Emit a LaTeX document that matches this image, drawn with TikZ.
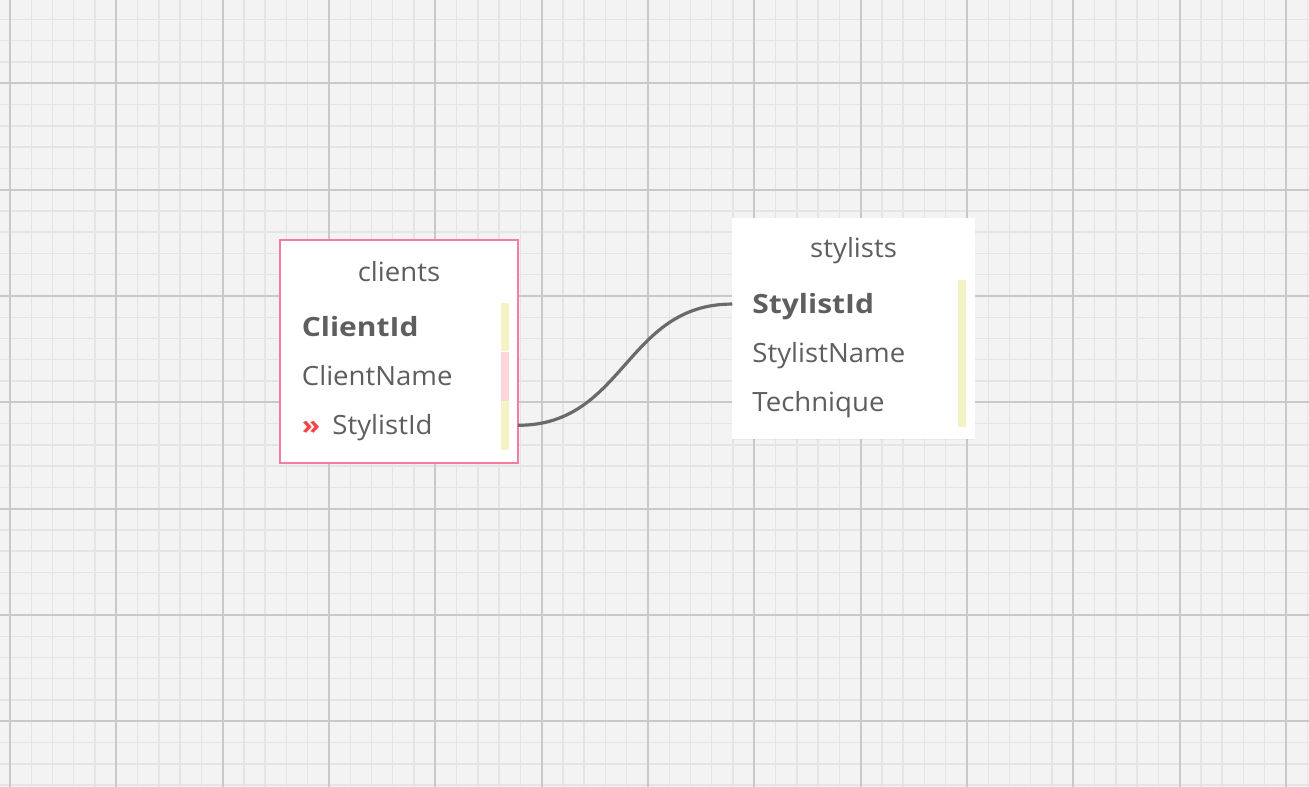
\documentclass[tikz,border=0pt]{standalone}
\usepackage{fontspec}
\setmainfont{Open Sans}[FakeStretch=1.04, BoldFeatures={FakeStretch=1.13}]
\usetikzlibrary{positioning, calc, shadows}

\definecolor{gridbg}{HTML}{F3F3F3}
\definecolor{gridminor}{HTML}{E4E4E4}
\definecolor{gridmajor}{HTML}{C9C9C9}
\definecolor{textgray}{HTML}{5E5E5E}
\definecolor{fkpink}{HTML}{F57CA1}
\definecolor{fkred}{HTML}{F24545}
\definecolor{baryellow}{HTML}{F3F3C4}
\definecolor{barpink}{HTML}{FFD6D9}
\definecolor{linkgray}{HTML}{6A6A6A}

\begin{document}
\begin{tikzpicture}[
    x=1pt, y=-1pt,
    minorline/.style={draw=gridminor, line width=1.4pt},
    majorline/.style={draw=gridmajor, line width=2pt},
    tablebox/.style={fill=white, inner sep=0pt, outer sep=0pt},
    tabtitle/.style={anchor=base, inner sep=0pt, text=textgray,
                     font=\fontsize{26.5}{30}\selectfont},
    fieldrow/.style={anchor=west, inner sep=0pt, text height=19pt,
                     text depth=0pt, text=textgray,
                     font=\fontsize{26.5}{30}\selectfont},
    keyrow/.style={fieldrow, font=\fontsize{26.5}{30}\selectfont\bfseries},
    relline/.style={draw=linkgray, line width=3.2pt}
  ]
  \useasboundingbox (0,0) rectangle (1309,787);
  \fill[gridbg] (0,0) rectangle (1309,787);

  % Grid
  \foreach \i in {0,...,61}
    \draw[minorline] ({10+\i*21.266},0) -- ++(0,787);
  \foreach \i in {-3,...,33}
    \draw[minorline] (0,{83.3+\i*21.266}) -- ++(1309,0);
  \foreach \i in {0,...,12}
    \draw[majorline] ({10+\i*106.33},0) -- ++(0,787);
  \foreach \i in {0,...,6}
    \draw[majorline] (0,{83.3+\i*106.33}) -- ++(1309,0);

  % clients table
  \node[tablebox, draw=fkpink, line width=2pt, minimum width=238pt,
        minimum height=223pt] (clients) at (399,351) {};
  \node[tabtitle] (clientsT) at ([yshift=-42pt]clients.north) {clients};
  \node[keyrow] (cid) at ([xshift=21.7pt, yshift=-87.5pt]clients.north west) {ClientId};
  \node[fieldrow, below=29.75pt of cid.south west, anchor=north west] (cname) {ClientName};
  \node[fieldrow, below=29.75pt of cname.south west, anchor=north west] (csid)
    {\textcolor{fkred}{\bfseries »}\hspace{5pt} StylistId};
  \foreach \r/\c in {cid/baryellow, cname/barpink, csid/baryellow}
    \fill[\c] ($(clients.east |- \r.center)+(-17,-24.4)$) rectangle
              ($(clients.east |- \r.center)+(-9,24.4)$);

  % stylists table
  \node[tablebox, minimum width=242.7pt, minimum height=221.5pt,
        drop shadow={shadow xshift=0.3pt, shadow yshift=-0.8pt, opacity=0.08}]
        (stylists) at (853.6,328.3) {};
  \node[tabtitle] (stylistsT) at ([yshift=-40pt]stylists.north) {stylists};
  \node[keyrow] (ssid) at ([xshift=20pt, yshift=-86.5pt]stylists.north west) {StylistId};
  \node[fieldrow, below=29.75pt of ssid.south west, anchor=north west] (sname) {StylistName};
  \node[fieldrow, below=29.75pt of sname.south west, anchor=north west] (stech) {Technique};
  \fill[baryellow] ($(stylists.east |- ssid.center)+(-17,-24.4)$) rectangle
                   ($(stylists.east |- stech.center)+(-9,24.4)$);

  % clients.StylistId -> stylists.StylistId
  \draw[relline] (clients.east |- csid.center) .. controls +(107,0) and +(-107,0)
    .. (stylists.west |- ssid.center);
\end{tikzpicture}
\end{document}
